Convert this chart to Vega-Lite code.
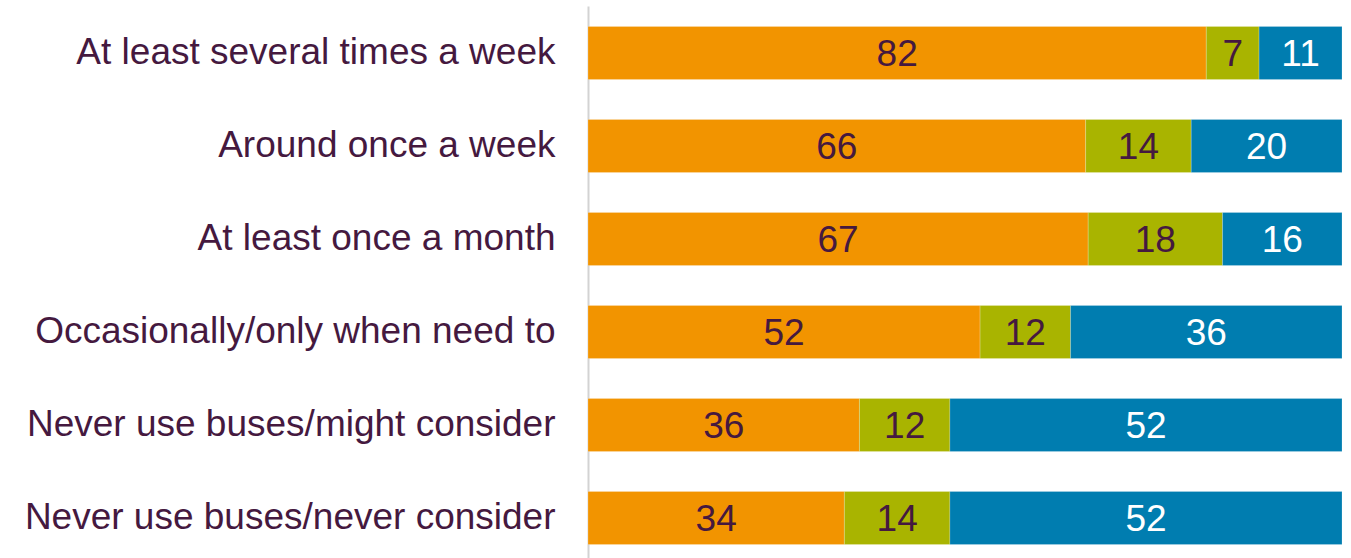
{
  "$schema": "https://vega.github.io/schema/vega-lite/v6.json",
  "width": 754,
  "height": 559,
  "autosize": "none",
  "padding": {"left": 588, "top": 6, "right": 9, "bottom": 0},
  "background": "white",
  "config": {"view": {"stroke": null}, "font": "Liberation Sans"},
  "data": {"values": [
    {"cat": "At least several times a week", "response": "Positive", "order": 1, "value": 82},
    {"cat": "At least several times a week", "response": "Neutral", "order": 2, "value": 7},
    {"cat": "At least several times a week", "response": "Negative", "order": 3, "value": 11},
    {"cat": "Around once a week", "response": "Positive", "order": 1, "value": 66},
    {"cat": "Around once a week", "response": "Neutral", "order": 2, "value": 14},
    {"cat": "Around once a week", "response": "Negative", "order": 3, "value": 20},
    {"cat": "At least once a month", "response": "Positive", "order": 1, "value": 67},
    {"cat": "At least once a month", "response": "Neutral", "order": 2, "value": 18},
    {"cat": "At least once a month", "response": "Negative", "order": 3, "value": 16},
    {"cat": "Occasionally/only when need to", "response": "Positive", "order": 1, "value": 52},
    {"cat": "Occasionally/only when need to", "response": "Neutral", "order": 2, "value": 12},
    {"cat": "Occasionally/only when need to", "response": "Negative", "order": 3, "value": 36},
    {"cat": "Never use buses/might consider", "response": "Positive", "order": 1, "value": 36},
    {"cat": "Never use buses/might consider", "response": "Neutral", "order": 2, "value": 12},
    {"cat": "Never use buses/might consider", "response": "Negative", "order": 3, "value": 52},
    {"cat": "Never use buses/never consider", "response": "Positive", "order": 1, "value": 34},
    {"cat": "Never use buses/never consider", "response": "Neutral", "order": 2, "value": 14},
    {"cat": "Never use buses/never consider", "response": "Negative", "order": 3, "value": 52}
  ]},
  "transform": [
    {"stack": "value", "groupby": ["cat"], "sort": [{"field": "order"}], "offset": "normalize", "as": ["x0", "x1"]},
    {"calculate": "(datum.x0 + datum.x1) / 2", "as": "mid"}
  ],
  "encoding": {
    "y": {
      "field": "cat", "type": "nominal", "sort": null, "title": null,
      "scale": {"paddingInner": 0.43, "paddingOuter": 0.22},
      "axis": {
        "domainColor": "#D3D3D3", "domainWidth": 2, "ticks": false,
        "labelFontSize": 37, "labelColor": "#45193F", "labelPadding": 33,
        "labelFont": "Liberation Sans", "labelLimit": 600
      }
    }
  },
  "layer": [
    {
      "mark": {"type": "bar", "stroke": "white", "strokeWidth": 0.5, "strokeOpacity": 0.4},
      "encoding": {
        "x": {"field": "x0", "type": "quantitative", "scale": {"domain": [0, 1], "nice": false}, "axis": null},
        "x2": {"field": "x1"},
        "color": {
          "field": "response", "type": "nominal",
          "scale": {"domain": ["Positive", "Neutral", "Negative"], "range": ["#F29400", "#A9B400", "#007DB0"]},
          "legend": null
        }
      }
    },
    {
      "mark": {"type": "text", "fontSize": 37, "baseline": "middle", "align": "center", "dy": 2},
      "encoding": {
        "x": {"field": "mid", "type": "quantitative"},
        "text": {"field": "value", "type": "quantitative"},
        "color": {
          "field": "response", "type": "nominal",
          "scale": {"domain": ["Positive", "Neutral", "Negative"], "range": ["#45193F", "#45193F", "#FFFFFF"]},
          "legend": null
        }
      }
    }
  ],
  "resolve": {"scale": {"color": "independent"}}
}
